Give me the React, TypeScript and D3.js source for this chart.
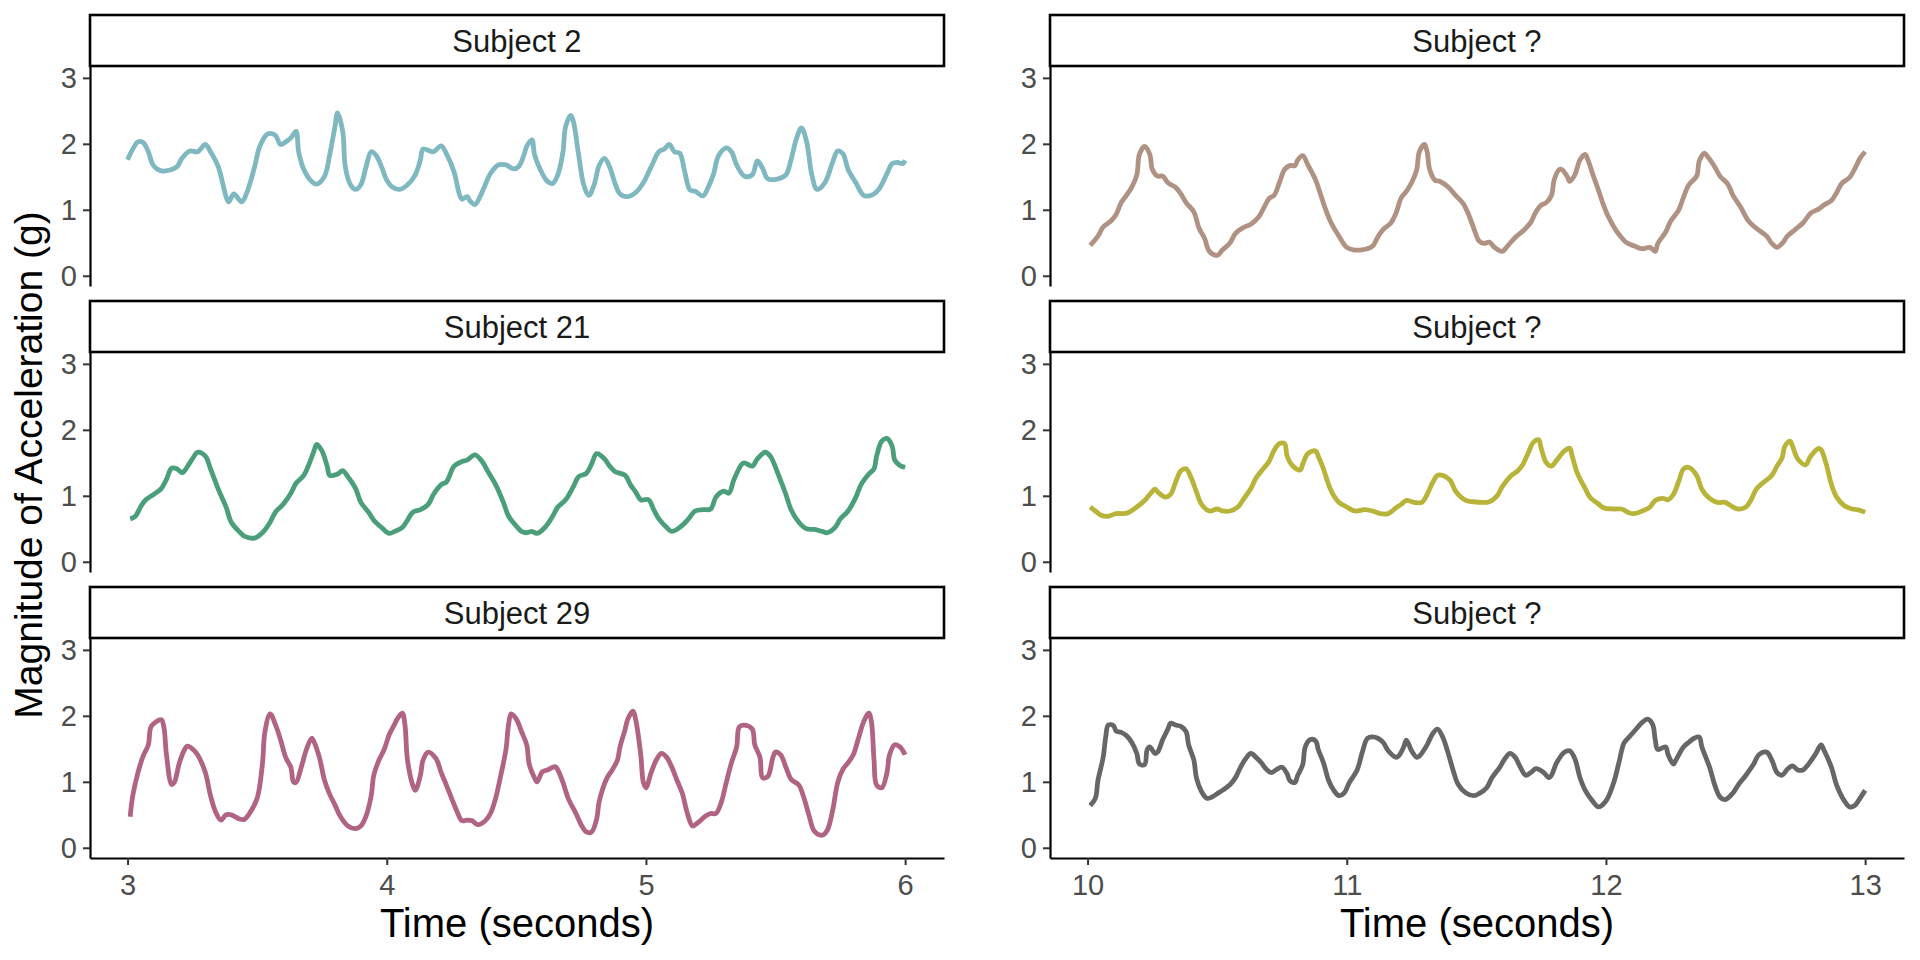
import { useEffect, useRef } from "react";
import * as d3 from "d3";

type Pt = [number, number];

// time (s), magnitude of acceleration (g)
const subject2: Pt[] = [
  [3.00,1.76],[3.02,1.92],[3.04,2.03],[3.06,2.02],[3.08,1.88],[3.10,1.67],[3.13,1.59],[3.16,1.60],[3.19,1.65],[3.21,1.78],
  [3.24,1.89],[3.27,1.88],[3.30,1.99],[3.32,1.88],[3.35,1.65],[3.38,1.20],[3.39,1.12],[3.41,1.24],[3.44,1.12],[3.46,1.26],
  [3.49,1.65],[3.51,1.96],[3.54,2.15],[3.57,2.13],[3.59,1.99],[3.61,2.03],[3.63,2.09],[3.65,2.19],[3.66,1.88],[3.68,1.61],
  [3.71,1.43],[3.73,1.39],[3.76,1.51],[3.78,1.84],[3.80,2.26],[3.81,2.47],[3.83,2.19],[3.84,1.65],[3.86,1.38],[3.88,1.31],
  [3.90,1.38],[3.92,1.65],[3.94,1.88],[3.96,1.82],[3.98,1.65],[4.00,1.45],[4.02,1.35],[4.05,1.31],[4.08,1.38],[4.11,1.53],
  [4.13,1.76],[4.14,1.92],[4.18,1.88],[4.21,1.97],[4.23,1.85],[4.26,1.57],[4.28,1.24],[4.29,1.16],[4.31,1.20],[4.32,1.14],
  [4.34,1.08],[4.36,1.20],[4.38,1.38],[4.40,1.55],[4.43,1.68],[4.46,1.68],[4.49,1.62],[4.51,1.66],[4.53,1.84],[4.54,1.96],
  [4.56,2.06],[4.57,1.84],[4.59,1.63],[4.62,1.43],[4.64,1.40],[4.66,1.53],[4.68,1.88],[4.69,2.26],[4.71,2.43],[4.72,2.34],
  [4.74,1.84],[4.76,1.38],[4.78,1.22],[4.80,1.38],[4.82,1.68],[4.84,1.78],[4.86,1.65],[4.88,1.41],[4.90,1.24],[4.93,1.20],
  [4.96,1.26],[4.99,1.41],[5.02,1.65],[5.05,1.88],[5.07,1.92],[5.09,1.99],[5.11,1.88],[5.13,1.86],[5.15,1.57],[5.17,1.30],
  [5.19,1.28],[5.22,1.21],[5.24,1.34],[5.26,1.53],[5.28,1.82],[5.31,1.94],[5.33,1.88],[5.35,1.68],[5.38,1.51],[5.41,1.53],
  [5.43,1.74],[5.45,1.63],[5.47,1.47],[5.51,1.47],[5.54,1.53],[5.56,1.76],[5.58,2.07],[5.60,2.24],[5.62,2.03],[5.64,1.53],
  [5.66,1.31],[5.69,1.41],[5.72,1.72],[5.74,1.89],[5.76,1.85],[5.78,1.61],[5.81,1.41],[5.84,1.22],[5.87,1.22],[5.90,1.32],
  [5.93,1.55],[5.95,1.70],[5.97,1.72],[5.99,1.70],[6.00,1.75],
];

const subject21: Pt[] = [
  [3.01,0.65],[3.03,0.69],[3.05,0.83],[3.07,0.94],[3.10,1.02],[3.13,1.11],[3.15,1.25],[3.17,1.42],[3.19,1.41],[3.21,1.35],
  [3.22,1.38],[3.25,1.56],[3.27,1.66],[3.30,1.60],[3.32,1.41],[3.35,1.10],[3.38,0.83],[3.40,0.60],[3.43,0.46],[3.45,0.39],
  [3.49,0.36],[3.52,0.44],[3.55,0.60],[3.57,0.75],[3.60,0.87],[3.63,1.04],[3.65,1.19],[3.68,1.31],[3.70,1.48],[3.72,1.69],
  [3.73,1.78],[3.75,1.68],[3.77,1.45],[3.78,1.31],[3.81,1.33],[3.83,1.38],[3.85,1.29],[3.88,1.11],[3.90,0.90],[3.93,0.75],
  [3.95,0.63],[3.98,0.52],[4.01,0.43],[4.03,0.46],[4.06,0.52],[4.08,0.63],[4.10,0.75],[4.13,0.79],[4.16,0.87],[4.18,1.02],
  [4.21,1.17],[4.23,1.21],[4.26,1.45],[4.29,1.52],[4.31,1.54],[4.34,1.62],[4.37,1.51],[4.39,1.37],[4.42,1.17],[4.45,0.90],
  [4.47,0.69],[4.50,0.54],[4.52,0.46],[4.54,0.44],[4.56,0.46],[4.58,0.43],[4.61,0.52],[4.64,0.69],[4.66,0.83],[4.69,0.94],
  [4.72,1.14],[4.74,1.29],[4.77,1.34],[4.79,1.48],[4.81,1.64],[4.84,1.56],[4.86,1.45],[4.88,1.37],[4.92,1.31],[4.94,1.17],
  [4.96,1.06],[4.98,0.94],[5.01,0.94],[5.03,0.79],[5.05,0.65],[5.08,0.52],[5.10,0.46],[5.13,0.52],[5.16,0.63],[5.19,0.77],
  [5.22,0.79],[5.25,0.80],[5.27,0.98],[5.30,1.07],[5.32,1.04],[5.34,1.25],[5.37,1.48],[5.38,1.50],[5.41,1.45],[5.43,1.56],
  [5.46,1.66],[5.48,1.60],[5.51,1.33],[5.54,1.02],[5.56,0.79],[5.59,0.60],[5.62,0.50],[5.65,0.49],[5.68,0.46],[5.70,0.44],
  [5.73,0.52],[5.75,0.65],[5.78,0.77],[5.81,0.98],[5.83,1.17],[5.86,1.33],[5.88,1.41],[5.89,1.60],[5.91,1.83],[5.93,1.87],
  [5.95,1.75],[5.96,1.54],[5.98,1.46],[6.00,1.43],
];

const subject29: Pt[] = [
  [3.01,0.47],[3.02,0.79],[3.04,1.14],[3.06,1.39],[3.08,1.56],[3.09,1.83],[3.11,1.91],[3.13,1.94],[3.14,1.83],[3.15,1.41],
  [3.17,0.96],[3.18,0.99],[3.20,1.29],[3.22,1.49],[3.23,1.54],[3.25,1.50],[3.27,1.41],[3.30,1.14],[3.32,0.79],[3.34,0.54],
  [3.36,0.42],[3.38,0.50],[3.40,0.50],[3.43,0.44],[3.45,0.43],[3.47,0.52],[3.50,0.75],[3.52,1.26],[3.53,1.76],[3.55,2.03],
  [3.57,1.87],[3.59,1.64],[3.61,1.37],[3.63,1.22],[3.64,1.00],[3.65,0.99],[3.67,1.22],[3.69,1.49],[3.71,1.66],[3.72,1.60],
  [3.74,1.37],[3.76,1.02],[3.78,0.81],[3.80,0.65],[3.82,0.48],[3.85,0.33],[3.88,0.29],[3.90,0.33],[3.92,0.48],[3.94,0.79],
  [3.95,1.10],[3.97,1.33],[3.99,1.49],[4.01,1.72],[4.03,1.87],[4.04,1.95],[4.06,2.04],[4.07,1.87],[4.08,1.33],[4.10,0.95],
  [4.11,0.87],[4.13,1.10],[4.14,1.33],[4.16,1.45],[4.19,1.35],[4.21,1.14],[4.23,0.95],[4.25,0.75],[4.27,0.56],[4.29,0.41],
  [4.31,0.42],[4.33,0.41],[4.35,0.35],[4.38,0.41],[4.40,0.52],[4.42,0.75],[4.44,1.10],[4.46,1.49],[4.47,1.87],[4.48,2.03],
  [4.50,1.95],[4.52,1.76],[4.54,1.56],[4.55,1.26],[4.57,1.06],[4.58,1.00],[4.60,1.15],[4.62,1.18],[4.65,1.23],[4.66,1.18],
  [4.68,0.99],[4.70,0.75],[4.73,0.52],[4.75,0.35],[4.77,0.24],[4.79,0.24],[4.81,0.44],[4.82,0.71],[4.85,1.06],[4.87,1.18],
  [4.89,1.33],[4.90,1.53],[4.92,1.80],[4.93,1.95],[4.95,2.07],[4.96,1.95],[4.98,1.41],[4.99,0.99],[5.00,0.91],[5.02,1.14],
  [5.04,1.33],[5.06,1.43],[5.08,1.37],[5.10,1.22],[5.12,1.02],[5.14,0.83],[5.16,0.52],[5.18,0.33],[5.20,0.38],[5.23,0.48],
  [5.25,0.52],[5.27,0.52],[5.29,0.68],[5.31,0.99],[5.33,1.29],[5.35,1.53],[5.36,1.83],[5.38,1.86],[5.41,1.80],[5.42,1.56],
  [5.44,1.37],[5.45,1.06],[5.47,1.08],[5.49,1.37],[5.50,1.45],[5.52,1.41],[5.54,1.22],[5.56,1.04],[5.59,0.95],[5.61,0.75],
  [5.63,0.48],[5.65,0.25],[5.68,0.19],[5.70,0.27],[5.72,0.56],[5.74,0.99],[5.76,1.19],[5.78,1.29],[5.80,1.41],[5.82,1.66],
  [5.84,1.91],[5.86,2.04],[5.87,1.91],[5.88,1.33],[5.89,0.95],[5.91,0.91],[5.93,1.14],[5.94,1.41],[5.96,1.56],[5.98,1.53],[6.00,1.41],
];

const unknownA: Pt[] = [
  [10.01,0.46],[10.04,0.60],[10.06,0.74],[10.09,0.83],[10.11,0.93],[10.13,1.11],[10.15,1.22],[10.17,1.34],[10.19,1.53],[10.20,1.84],
  [10.22,1.96],[10.24,1.84],[10.25,1.61],[10.27,1.51],[10.29,1.51],[10.31,1.41],[10.34,1.34],[10.36,1.24],[10.38,1.11],[10.41,0.97],
  [10.43,0.72],[10.45,0.58],[10.47,0.37],[10.50,0.31],[10.52,0.39],[10.55,0.50],[10.57,0.64],[10.60,0.73],[10.63,0.78],[10.66,0.89],
  [10.68,1.03],[10.70,1.17],[10.72,1.22],[10.74,1.41],[10.76,1.61],[10.78,1.67],[10.80,1.67],[10.81,1.75],[10.83,1.82],[10.85,1.68],
  [10.88,1.45],[10.90,1.22],[10.92,0.99],[10.94,0.80],[10.97,0.60],[11.00,0.43],[11.03,0.39],[11.05,0.39],[11.08,0.41],[11.10,0.45],
  [11.12,0.59],[11.14,0.70],[11.17,0.80],[11.19,0.95],[11.21,1.18],[11.23,1.28],[11.25,1.41],[11.27,1.61],[11.28,1.88],[11.30,1.99],
  [11.31,1.88],[11.32,1.61],[11.34,1.45],[11.36,1.43],[11.39,1.35],[11.42,1.22],[11.45,1.09],[11.47,0.93],[11.49,0.72],[11.51,0.53],
  [11.53,0.49],[11.55,0.51],[11.57,0.43],[11.60,0.37],[11.62,0.45],[11.65,0.58],[11.68,0.68],[11.71,0.81],[11.73,0.97],[11.75,1.07],
  [11.77,1.11],[11.79,1.22],[11.80,1.45],[11.82,1.61],[11.83,1.61],[11.85,1.51],[11.86,1.43],[11.88,1.53],[11.90,1.76],[11.92,1.84],
  [11.93,1.76],[11.95,1.53],[11.97,1.31],[11.99,1.08],[12.01,0.89],[12.04,0.68],[12.06,0.58],[12.08,0.50],[12.11,0.45],[12.14,0.41],
  [12.17,0.43],[12.19,0.37],[12.20,0.49],[12.23,0.66],[12.25,0.83],[12.28,0.99],[12.30,1.20],[12.32,1.38],[12.35,1.51],[12.36,1.74],
  [12.38,1.86],[12.39,1.82],[12.42,1.65],[12.44,1.51],[12.47,1.39],[12.49,1.22],[12.52,1.04],[12.55,0.83],[12.58,0.72],[12.62,0.60],
  [12.64,0.49],[12.66,0.43],[12.68,0.49],[12.70,0.60],[12.73,0.70],[12.76,0.80],[12.79,0.95],[12.82,1.01],[12.84,1.07],[12.87,1.14],
  [12.89,1.26],[12.91,1.40],[12.94,1.49],[12.96,1.62],[12.98,1.78],[13.00,1.88],
];

const unknownB: Pt[] = [
  [10.01,0.83],[10.03,0.77],[10.05,0.71],[10.08,0.69],[10.11,0.73],[10.14,0.73],[10.16,0.75],[10.19,0.83],[10.22,0.93],[10.24,1.02],
  [10.26,1.10],[10.27,1.06],[10.30,0.98],[10.32,1.02],[10.34,1.21],[10.36,1.38],[10.38,1.41],[10.40,1.27],[10.42,1.06],[10.44,0.87],
  [10.47,0.77],[10.50,0.80],[10.52,0.77],[10.55,0.77],[10.58,0.83],[10.60,0.94],[10.63,1.11],[10.65,1.27],[10.68,1.42],[10.70,1.52],
  [10.72,1.69],[10.74,1.79],[10.76,1.79],[10.77,1.60],[10.79,1.46],[10.82,1.39],[10.83,1.48],[10.85,1.64],[10.88,1.68],[10.89,1.60],
  [10.91,1.41],[10.93,1.17],[10.95,1.00],[10.97,0.90],[11.00,0.83],[11.03,0.77],[11.07,0.79],[11.10,0.77],[11.13,0.73],[11.16,0.73],
  [11.19,0.82],[11.21,0.87],[11.23,0.93],[11.26,0.90],[11.29,0.90],[11.31,1.02],[11.33,1.19],[11.35,1.31],[11.37,1.31],[11.40,1.23],
  [11.42,1.07],[11.46,0.93],[11.49,0.91],[11.52,0.90],[11.55,0.91],[11.58,1.00],[11.60,1.14],[11.63,1.29],[11.66,1.38],[11.68,1.48],
  [11.70,1.65],[11.72,1.81],[11.74,1.85],[11.75,1.72],[11.77,1.50],[11.79,1.45],[11.81,1.54],[11.84,1.68],[11.86,1.72],[11.87,1.60],
  [11.89,1.34],[11.92,1.11],[11.94,0.97],[11.97,0.88],[11.99,0.82],[12.03,0.80],[12.06,0.80],[12.09,0.74],[12.11,0.73],[12.14,0.77],
  [12.17,0.83],[12.19,0.93],[12.22,0.96],[12.24,0.94],[12.26,1.02],[12.28,1.21],[12.30,1.41],[12.32,1.43],[12.35,1.31],[12.37,1.10],
  [12.40,0.96],[12.43,0.90],[12.46,0.90],[12.49,0.83],[12.51,0.80],[12.54,0.83],[12.56,0.94],[12.58,1.10],[12.61,1.21],[12.64,1.31],
  [12.66,1.45],[12.68,1.58],[12.69,1.75],[12.71,1.83],[12.72,1.75],[12.74,1.56],[12.77,1.47],[12.79,1.60],[12.82,1.72],[12.83,1.70],
  [12.85,1.48],[12.87,1.17],[12.89,0.98],[12.92,0.85],[12.95,0.80],[12.97,0.79],[13.00,0.75],
];

const unknownC: Pt[] = [
  [10.01,0.64],[10.03,0.75],[10.04,1.02],[10.06,1.37],[10.07,1.68],[10.08,1.86],[10.10,1.85],[10.11,1.77],[10.13,1.75],[10.15,1.70],
  [10.17,1.60],[10.19,1.43],[10.20,1.27],[10.22,1.26],[10.23,1.49],[10.24,1.53],[10.26,1.43],[10.27,1.45],[10.29,1.64],[10.31,1.80],
  [10.32,1.89],[10.34,1.86],[10.36,1.84],[10.38,1.76],[10.39,1.56],[10.41,1.33],[10.42,1.06],[10.44,0.85],[10.46,0.75],[10.48,0.77],
  [10.50,0.82],[10.52,0.87],[10.55,0.96],[10.57,1.06],[10.59,1.22],[10.61,1.35],[10.63,1.43],[10.65,1.37],[10.67,1.29],[10.69,1.19],
  [10.71,1.14],[10.73,1.19],[10.75,1.22],[10.77,1.12],[10.78,1.02],[10.80,0.99],[10.81,1.09],[10.83,1.26],[10.84,1.53],[10.86,1.64],
  [10.88,1.62],[10.89,1.49],[10.91,1.29],[10.93,1.02],[10.95,0.87],[10.97,0.79],[10.99,0.83],[11.01,0.99],[11.04,1.18],[11.06,1.45],
  [11.08,1.66],[11.10,1.68],[11.12,1.66],[11.14,1.60],[11.16,1.47],[11.19,1.37],[11.20,1.39],[11.22,1.53],[11.23,1.63],[11.25,1.47],
  [11.27,1.37],[11.28,1.39],[11.31,1.56],[11.33,1.72],[11.35,1.80],[11.37,1.68],[11.39,1.45],[11.41,1.18],[11.43,0.96],[11.46,0.83],
  [11.49,0.79],[11.51,0.82],[11.54,0.91],[11.56,1.06],[11.59,1.22],[11.61,1.35],[11.63,1.43],[11.65,1.37],[11.67,1.22],[11.69,1.10],
  [11.71,1.14],[11.73,1.20],[11.76,1.14],[11.78,1.06],[11.79,1.10],[11.81,1.29],[11.84,1.45],[11.86,1.47],[11.88,1.35],[11.90,1.06],
  [11.92,0.87],[11.95,0.70],[11.97,0.62],[12.00,0.71],[12.03,0.99],[12.05,1.29],[12.07,1.59],[12.09,1.68],[12.11,1.77],[12.14,1.90],
  [12.16,1.95],[12.18,1.87],[12.19,1.64],[12.20,1.49],[12.23,1.53],[12.24,1.41],[12.26,1.27],[12.27,1.33],[12.30,1.53],[12.32,1.60],
  [12.34,1.66],[12.36,1.68],[12.37,1.53],[12.40,1.22],[12.42,0.95],[12.44,0.77],[12.46,0.73],[12.49,0.83],[12.51,0.95],[12.54,1.10],
  [12.57,1.27],[12.59,1.41],[12.62,1.45],[12.64,1.33],[12.66,1.14],[12.68,1.10],[12.70,1.19],[12.72,1.24],[12.74,1.18],[12.76,1.18],
  [12.78,1.26],[12.81,1.43],[12.83,1.56],[12.84,1.49],[12.87,1.22],[12.89,0.95],[12.92,0.71],[12.94,0.62],[12.96,0.64],[12.98,0.75],[13.00,0.87],
];

const panelLabels = ["Subject 2", "Subject 21", "Subject 29", "Subject ?", "Subject ?", "Subject ?"];
const panelSeries = [subject2, subject21, subject29, unknownA, unknownB, unknownC];
const panelColors = ["#7fb8c1", "#4a9f7a", "#b06383", "#b09283", "#b8b43a", "#666666"];

const leftTicks = [3, 4, 5, 6];
const rightTicks = [10, 11, 12, 13];
const yTicks = [0, 1, 2, 3];

const FONT = "'Liberation Sans', Arial, Helvetica, sans-serif";

export default function App() {
  const svgRef = useRef<SVGSVGElement>(null);

  useEffect(() => {
    if (!svgRef.current) return;
    const svg = d3.select(svgRef.current);
    svg.selectAll("*").remove();

    const colX = [90, 1050];
    const panelW = 854;
    const stripH = 51;
    const plotH = 220;
    const rowPitch = 286;
    const top0 = 15;

    const y0 = d3.scaleLinear().domain([-0.155, 3.18]);

    panelSeries.forEach((series, i) => {
      const col = i < 3 ? 0 : 1;
      const row = i % 3;
      const left = colX[col];
      const stripTop = top0 + row * rowPitch;
      const plotTop = stripTop + stripH;
      const ticks = col === 0 ? leftTicks : rightTicks;

      const x = d3
        .scaleLinear()
        .domain([ticks[0] - 0.145, ticks[3] + 0.15])
        .range([left, left + panelW]);
      const y = y0.copy().range([plotTop + plotH, plotTop]);

      // strip
      svg.append("rect")
        .attr("x", left)
        .attr("y", stripTop)
        .attr("width", panelW)
        .attr("height", stripH)
        .attr("fill", "white")
        .attr("stroke", "black")
        .attr("stroke-width", 2.6);
      svg.append("text")
        .attr("x", left + panelW / 2)
        .attr("y", stripTop + 37)
        .attr("text-anchor", "middle")
        .attr("font-family", FONT)
        .attr("font-size", 31)
        .attr("fill", "#1a1a1a")
        .text(panelLabels[i]);

      // y axis
      const ya = svg.append("g")
        .attr("transform", `translate(${left},0)`)
        .call(d3.axisLeft(y).tickValues(yTicks).tickFormat(d3.format("d")).tickSize(7).tickPadding(6).tickSizeOuter(0));
      ya.select(".domain").attr("stroke", "black").attr("stroke-width", 2.2);
      ya.selectAll(".tick line").attr("stroke", "#333333").attr("stroke-width", 2);
      ya.selectAll(".tick text").attr("font-family", FONT).attr("font-size", 29).attr("fill", "#4d4d4d");

      // x axis on bottom row only
      if (row === 2) {
        const xa = svg.append("g")
          .attr("transform", `translate(0,${plotTop + plotH})`)
          .call(d3.axisBottom(x).tickValues(ticks).tickFormat(d3.format("d")).tickSize(7).tickPadding(9).tickSizeOuter(0));
        xa.select(".domain").attr("stroke", "black").attr("stroke-width", 2.2);
        xa.selectAll(".tick line").attr("stroke", "#333333").attr("stroke-width", 2);
        xa.selectAll(".tick text").attr("font-family", FONT).attr("font-size", 29).attr("fill", "#4d4d4d");

        svg.append("text")
          .attr("x", left + panelW / 2)
          .attr("y", 937)
          .attr("text-anchor", "middle")
          .attr("font-family", FONT)
          .attr("font-size", 40)
          .attr("fill", "black")
          .text("Time (seconds)");
      }

      const line = d3
        .line<Pt>()
        .x((d) => x(d[0]))
        .y((d) => y(d[1]))
        .curve(d3.curveCatmullRom.alpha(0.5));

      svg.append("path")
        .datum(series)
        .attr("d", line)
        .attr("fill", "none")
        .attr("stroke", panelColors[i])
        .attr("stroke-width", 4.8)
        .attr("stroke-linejoin", "round")
        .attr("stroke-linecap", "butt");
    });

    svg.append("text")
      .attr("transform", "translate(42,465) rotate(-90)")
      .attr("text-anchor", "middle")
      .attr("font-family", FONT)
      .attr("font-size", 39)
      .attr("fill", "black")
      .text("Magnitude of Acceleration (g)");
  }, []);

  return (
    <svg
      ref={svgRef}
      width={1920}
      height={960}
      style={{ position: "fixed", left: 0, top: 0, background: "white" }}
    />
  );
}
